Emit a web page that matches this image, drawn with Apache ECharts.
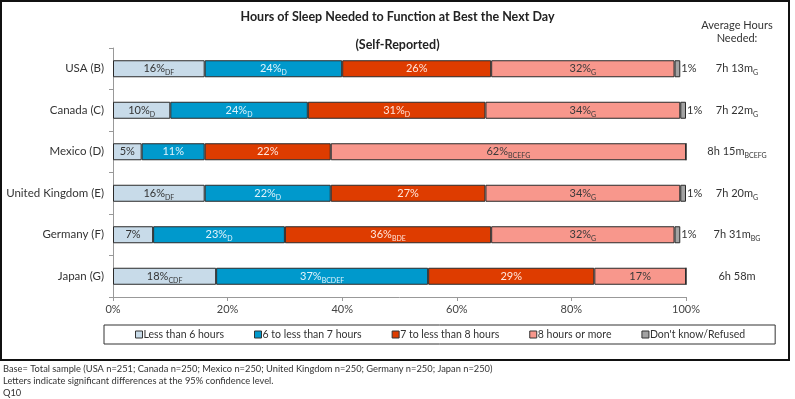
<!DOCTYPE html>
<html>
<head>
<meta charset="utf-8">
<script src="https://cdn.jsdelivr.net/npm/echarts@6/dist/echarts.min.js"></script>
<style>
  html, body { margin: 0; padding: 0; background: #fff; }
  #chart { width: 795px; height: 399px; }
</style>
</head>
<body>
<div id="chart"></div>
<script>
// data
var categories = ['USA (B)', 'Canada (C)', 'Mexico (D)', 'United Kingdom (E)', 'Germany (F)', 'Japan (G)'];
var seriesNames = ['Less than 6 hours', '6 to less than 7 hours', '7 to less than 8 hours', '8 hours or more', "Don't know/Refused"];

var lessThan6 = [16, 10, 5, 16, 7, 18];
var sixTo7 = [24, 24, 11, 22, 23, 37];
var sevenTo8 = [26, 31, 22, 27, 36, 29];
var eightPlus = [32, 34, 62, 34, 32, 16];
var dontKnow = [1, 1, 0, 1, 1, 0];

// printed labels (Japan's 8+ shows 17% due to rounding)
var eightPlusShown = [32, 34, 62, 34, 32, 17];

// significance letters
var lessThan6Sig = ['DF', 'D', '', 'DF', '', 'CDF'];
var sixTo7Sig = ['D', 'D', '', 'D', 'D', 'BCDEF'];
var sevenTo8Sig = ['', 'D', '', '', 'BDE', ''];
var eightPlusSig = ['G', 'G', 'BCEFG', 'G', 'G', ''];

var avgHours = ['7h 13m', '7h 22m', '8h 15m', '7h 20m', '7h 31m', '6h 58m'];
var avgSig = ['G', 'G', 'BCEFG', 'G', 'BG', ''];

var xTicks = [0, 20, 40, 60, 80, 100];

var colors = ['#c8dbe9', '#0099cc', '#de3c00', '#f8978c', '#a3a3a3'];
var labelColors = ['#333', '#dff3fb', '#ffe6dc', '#3a3a3a', '#333'];
var FONT = 'Lato';

var myChart = echarts.init(document.getElementById('chart'));

function richFor(color) {
    return {
        m: { fontSize: 11, color: color, fontFamily: FONT },
        s: { fontSize: 7, color: color, fontFamily: FONT, padding: [8, 0, 0, 0] }
    };
}

function fmt(shown, sig) {
    return function (p) {
        var v = shown[p.dataIndex];
        if (!v) return '';
        var t = '{m|' + v + '%}';
        if (sig && sig[p.dataIndex]) t += '{s|' + sig[p.dataIndex] + '}';
        return t;
    };
}

var values = [lessThan6, sixTo7, sevenTo8, eightPlus, dontKnow];
var shownVals = [lessThan6, sixTo7, sevenTo8, eightPlusShown, dontKnow];
var sigs = [lessThan6Sig, sixTo7Sig, sevenTo8Sig, eightPlusSig, null];

var series = [];
for (var i = 0; i < seriesNames.length; i++) {
    series.push({
        name: seriesNames[i],
        type: 'bar',
        stack: 'total',
        barWidth: 17,
        data: values[i],
        itemStyle: { color: colors[i], borderColor: '#2a2a2a', borderWidth: 1 },
        label: {
            show: true,
            position: i === 4 ? 'right' : 'inside',
            distance: 1,
            formatter: fmt(shownVals[i], sigs[i]),
            rich: richFor(labelColors[i])
        },
        emphasis: { disabled: true }
    });
}

option = {
    animation: false,
    color: colors,
    textStyle: { fontFamily: FONT },
    grid: { left: 113, right: 109, top: 48, bottom: 102 },
    xAxis: {
        type: 'value',
        min: 0,
        max: 100,
        interval: 20,
        axisLine: { show: true, lineStyle: { color: '#999' } },
        axisTick: { show: true, length: 4, lineStyle: { color: '#999' } },
        splitLine: { show: false },
        axisLabel: {
            color: '#444', fontSize: 11, margin: 7,
            formatter: function (v) { return xTicks.indexOf(v) >= 0 ? v + '%' : ''; }
        }
    },
    yAxis: [{
        type: 'category',
        data: categories,
        inverse: true,
        axisLine: { show: true, lineStyle: { color: '#999' } },
        axisTick: { show: true, length: 4, lineStyle: { color: '#999' } },
        axisLabel: { color: '#333', fontSize: 11.5, margin: 9 }
    }, {
        type: 'category',
        data: categories,
        inverse: true,
        position: 'right',
        axisLine: { show: false },
        axisTick: { show: false },
        axisLabel: {
            align: 'center',
            margin: 51,
            formatter: function (v, idx) {
                var t = '{m|' + avgHours[idx] + '}';
                if (avgSig[idx]) t += '{s|' + avgSig[idx] + '}';
                return t;
            },
            rich: richFor('#333')
        }
    }],
    legend: {
        left: 104,
        top: 325,
        data: seriesNames,
        icon: 'rect',
        itemWidth: 7,
        itemHeight: 7,
        itemGap: 30,
        padding: [4, 30, 4, 31],
        borderColor: '#333',
        borderWidth: 1,
        selectedMode: false,
        itemStyle: { borderColor: '#333', borderWidth: 1 },
        textStyle: { fontSize: 10.5, color: '#333', padding: [0, 0, 0, -4] }
    },
    graphic: [
        { type: 'rect', shape: { x: 1, y: 1, width: 788, height: 359 }, style: { fill: 'none', stroke: '#111', lineWidth: 2 }, silent: true },
        { type: 'text', left: 'center', top: 10, style: { text: 'Hours of Sleep Needed to Function at Best the Next Day', font: 'bold 12.5px Lato', fill: '#222' } },
        { type: 'text', left: 'center', top: 38, style: { text: '(Self-Reported)', font: 'bold 12.5px Lato', fill: '#222' } },
        { type: 'text', x: 737, y: 19, style: { text: 'Average Hours\nNeeded:', font: '11px Lato', fill: '#333', textAlign: 'center', lineHeight: 13 } },
        { type: 'text', x: 3, y: 364, style: { text: 'Base= Total sample (USA n=251; Canada n=250; Mexico n=250; United Kingdom n=250; Germany n=250; Japan n=250)', font: '9.3px Lato', fill: '#333' } },
        { type: 'text', x: 3, y: 376, style: { text: 'Letters indicate significant differences at the 95% confidence level.', font: '9.3px Lato', fill: '#333' } },
        { type: 'text', x: 3, y: 388, style: { text: 'Q10', font: '9.3px Lato', fill: '#333' } }
    ],
    series: series
};

myChart.setOption(option);
</script>
</body>
</html>
